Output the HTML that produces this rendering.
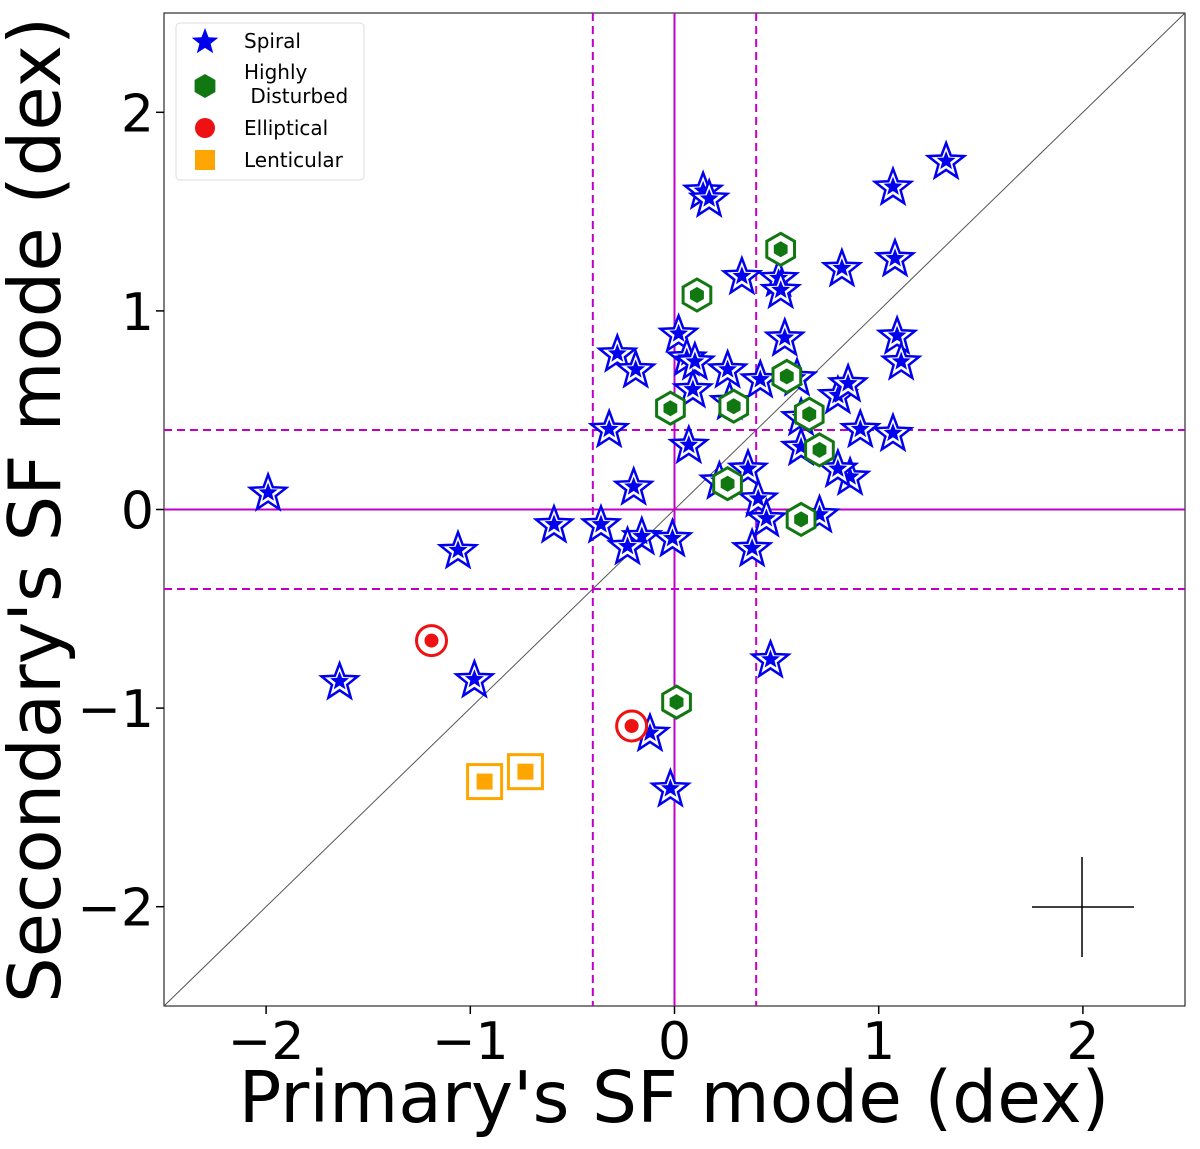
<!DOCTYPE html>
<html><head><meta charset="utf-8"><style>
html,body{margin:0;padding:0;background:#fff}
svg{display:block;font-family:"DejaVu Sans","Liberation Sans",sans-serif}
</style></head><body>
<svg id="chart" width="1200" height="1149" viewBox="0 0 1200 1149" xmlns="http://www.w3.org/2000/svg"></svg>
<script>
const spiralX=[0.14,0.17,1.07,1.33,0.33,0.51,0.52,0.82,1.08,0.02,1.09,0.54,-0.28,-0.19,0.06,0.10,1.11,0.26,0.42,0.60,0.09,0.80,0.85,0.27,0.62,-0.32,0.91,1.07,0.07,0.62,0.86,0.80,-0.20,0.36,0.22,0.41,0.45,0.71,-0.36,-0.16,-0.23,-0.01,0.38,-1.99,-0.59,-1.06,-1.64,-0.98,0.47,-0.12,-0.02];
const spiralY=[1.61,1.57,1.63,1.76,1.18,1.17,1.11,1.22,1.27,0.89,0.88,0.87,0.79,0.71,0.77,0.75,0.75,0.71,0.66,0.67,0.61,0.58,0.64,0.55,0.47,0.41,0.41,0.39,0.33,0.32,0.17,0.21,0.12,0.21,0.15,0.06,-0.04,-0.02,-0.07,-0.13,-0.18,-0.14,-0.19,0.09,-0.07,-0.20,-0.86,-0.85,-0.75,-1.12,-1.40];
const disturbedX=[0.52,0.11,0.55,-0.02,0.29,0.66,0.71,0.26,0.62,0.01];
const disturbedY=[1.31,1.08,0.67,0.51,0.52,0.48,0.30,0.13,-0.05,-0.97];
const ellipticalX=[-1.19,-0.21];
const ellipticalY=[-0.66,-1.09];
const lenticularX=[-0.93,-0.73];
const lenticularY=[-1.37,-1.32];
const tickValues=[-2,-1,0,1,2];
const tickLabels=["\u22122","\u22121","0","1","2"];

const NS="http://www.w3.org/2000/svg";
const svg=document.getElementById('chart');
const L=164,R=1185,T=13,B=1006,MIN=-2.5,MAX=2.5;
const sx=v=>L+(v-MIN)/(MAX-MIN)*(R-L);
const sy=v=>B-(v-MIN)/(MAX-MIN)*(B-T);
function el(tag,attrs,parent){const e=document.createElementNS(NS,tag);for(const k in attrs)e.setAttribute(k,attrs[k]);(parent||svg).appendChild(e);return e;}
function starPts(cx,cy,r){let p=[];for(let i=0;i<10;i++){const a=-Math.PI/2+i*Math.PI/5;const rr=i%2?r*0.42:r;p.push((cx+rr*Math.cos(a)).toFixed(1)+','+(cy+rr*Math.sin(a)).toFixed(1));}return p.join(' ');}
function hexPts(cx,cy,r){let p=[];for(let i=0;i<6;i++){const a=-Math.PI/2+i*Math.PI/3;p.push((cx+r*Math.cos(a)).toFixed(1)+','+(cy+r*Math.sin(a)).toFixed(1));}return p.join(' ');}

const frame=el('rect',{x:L,y:T,width:R-L,height:B-T,fill:'none',stroke:'#000','stroke-width':1});


const diag=el('line',{x1:sx(MIN),y1:sy(MIN),x2:sx(MAX),y2:sy(MAX),stroke:'#555','stroke-width':1});


const mag='#c000c8';
[[0,'none'],[-0.4,'8,5'],[0.4,'8,5']].forEach(([v,d])=>{
  const lv=el('line',{x1:sx(v),y1:T,x2:sx(v),y2:B,stroke:mag,'stroke-width':2,'stroke-dasharray':d});
  
  
  const lh=el('line',{x1:L,y1:sy(v),x2:R,y2:sy(v),stroke:mag,'stroke-width':2,'stroke-dasharray':d});
  
  
});
tickValues.forEach((v,i)=>{
  const tx=el('line',{x1:sx(v),y1:B,x2:sx(v),y2:B+8,stroke:'#000','stroke-width':1.5});
  
  
  const lx=el('text',{x:sx(v),y:B+53,'font-size':52,'text-anchor':'middle'});
  lx.textContent=tickLabels[i];
  
  
  const ty=el('line',{x1:L-8,y1:sy(v),x2:L,y2:sy(v),stroke:'#000','stroke-width':1.5});
  
  
  const ly=el('text',{x:L-10,y:sy(v)+19,'font-size':52,'text-anchor':'end'});
  ly.textContent=tickLabels[i];
  
  
});
const xt=el('text',{x:674,y:1122,'font-size':71,'text-anchor':'middle'});
xt.textContent="Primary's SF mode (dex)";


const yt=el('text',{x:0,y:0,'font-size':72,'text-anchor':'middle',transform:'translate(60,510) rotate(-90)'});
yt.textContent="Secondary's SF mode (dex)";



spiralX.forEach((v,i)=>{
  const g=el('g',{});
  
  
  const cx=sx(v),cy=sy(spiralY[i]);
  el('polygon',{points:starPts(cx,cy+2,19),fill:'#fff',stroke:'#0000ee','stroke-width':2.5,'stroke-linejoin':'miter'},g);
  el('polygon',{points:starPts(cx,cy+1,10),fill:'#0000ee'},g);
});
disturbedX.forEach((v,i)=>{
  const g=el('g',{});
  
  
  const cx=sx(v),cy=sy(disturbedY[i]);
  el('polygon',{points:hexPts(cx,cy,16),fill:'#fff',stroke:'#117711','stroke-width':3},g);
  el('polygon',{points:hexPts(cx,cy,8),fill:'#117711'},g);
});
ellipticalX.forEach((v,i)=>{
  const g=el('g',{});
  
  
  const cx=sx(v),cy=sy(ellipticalY[i]);
  el('circle',{cx:cx,cy:cy,r:15,fill:'#fff',stroke:'#ee1111','stroke-width':3},g);
  el('circle',{cx:cx,cy:cy,r:7,fill:'#ee1111'},g);
});
lenticularX.forEach((v,i)=>{
  const g=el('g',{});
  
  
  const cx=sx(v),cy=sy(lenticularY[i]);
  el('rect',{x:cx-17,y:cy-17,width:34,height:34,fill:'#fff',stroke:'#ffa500','stroke-width':3},g);
  el('rect',{x:cx-8,y:cy-8,width:16,height:16,fill:'#ffa500'},g);
});
const eb=el('g',{});


el('line',{x1:1032,y1:907,x2:1134,y2:907,stroke:'#000','stroke-width':1.5},eb);
el('line',{x1:1082,y1:857,x2:1082,y2:957,stroke:'#000','stroke-width':1.5},eb);

const lg=el('g',{});


el('rect',{x:176,y:23,width:188,height:157,rx:4,fill:'#fff',stroke:'#ddd','stroke-width':1},lg);
const e1=el('g',{},lg);


el('polygon',{points:starPts(205,42,14),fill:'#0000ee'},e1);
el('text',{x:244,y:48,'font-size':20},e1).textContent='Spiral';
const e2=el('g',{},lg);


el('polygon',{points:hexPts(205,86,12),fill:'#117711'},e2);
el('text',{x:244,y:79,'font-size':20},e2).textContent='Highly';
el('text',{x:244,y:103,'font-size':20},e2).textContent='\u00a0Disturbed';
const e3=el('g',{},lg);


el('circle',{cx:205,cy:128,r:10,fill:'#ee1111'},e3);
el('text',{x:244,y:135,'font-size':20},e3).textContent='Elliptical';
const e4=el('g',{},lg);


el('rect',{x:195,y:150,width:20,height:20,fill:'#ffa500'},e4);
el('text',{x:244,y:167,'font-size':20},e4).textContent='Lenticular';
</script>
</body></html>
